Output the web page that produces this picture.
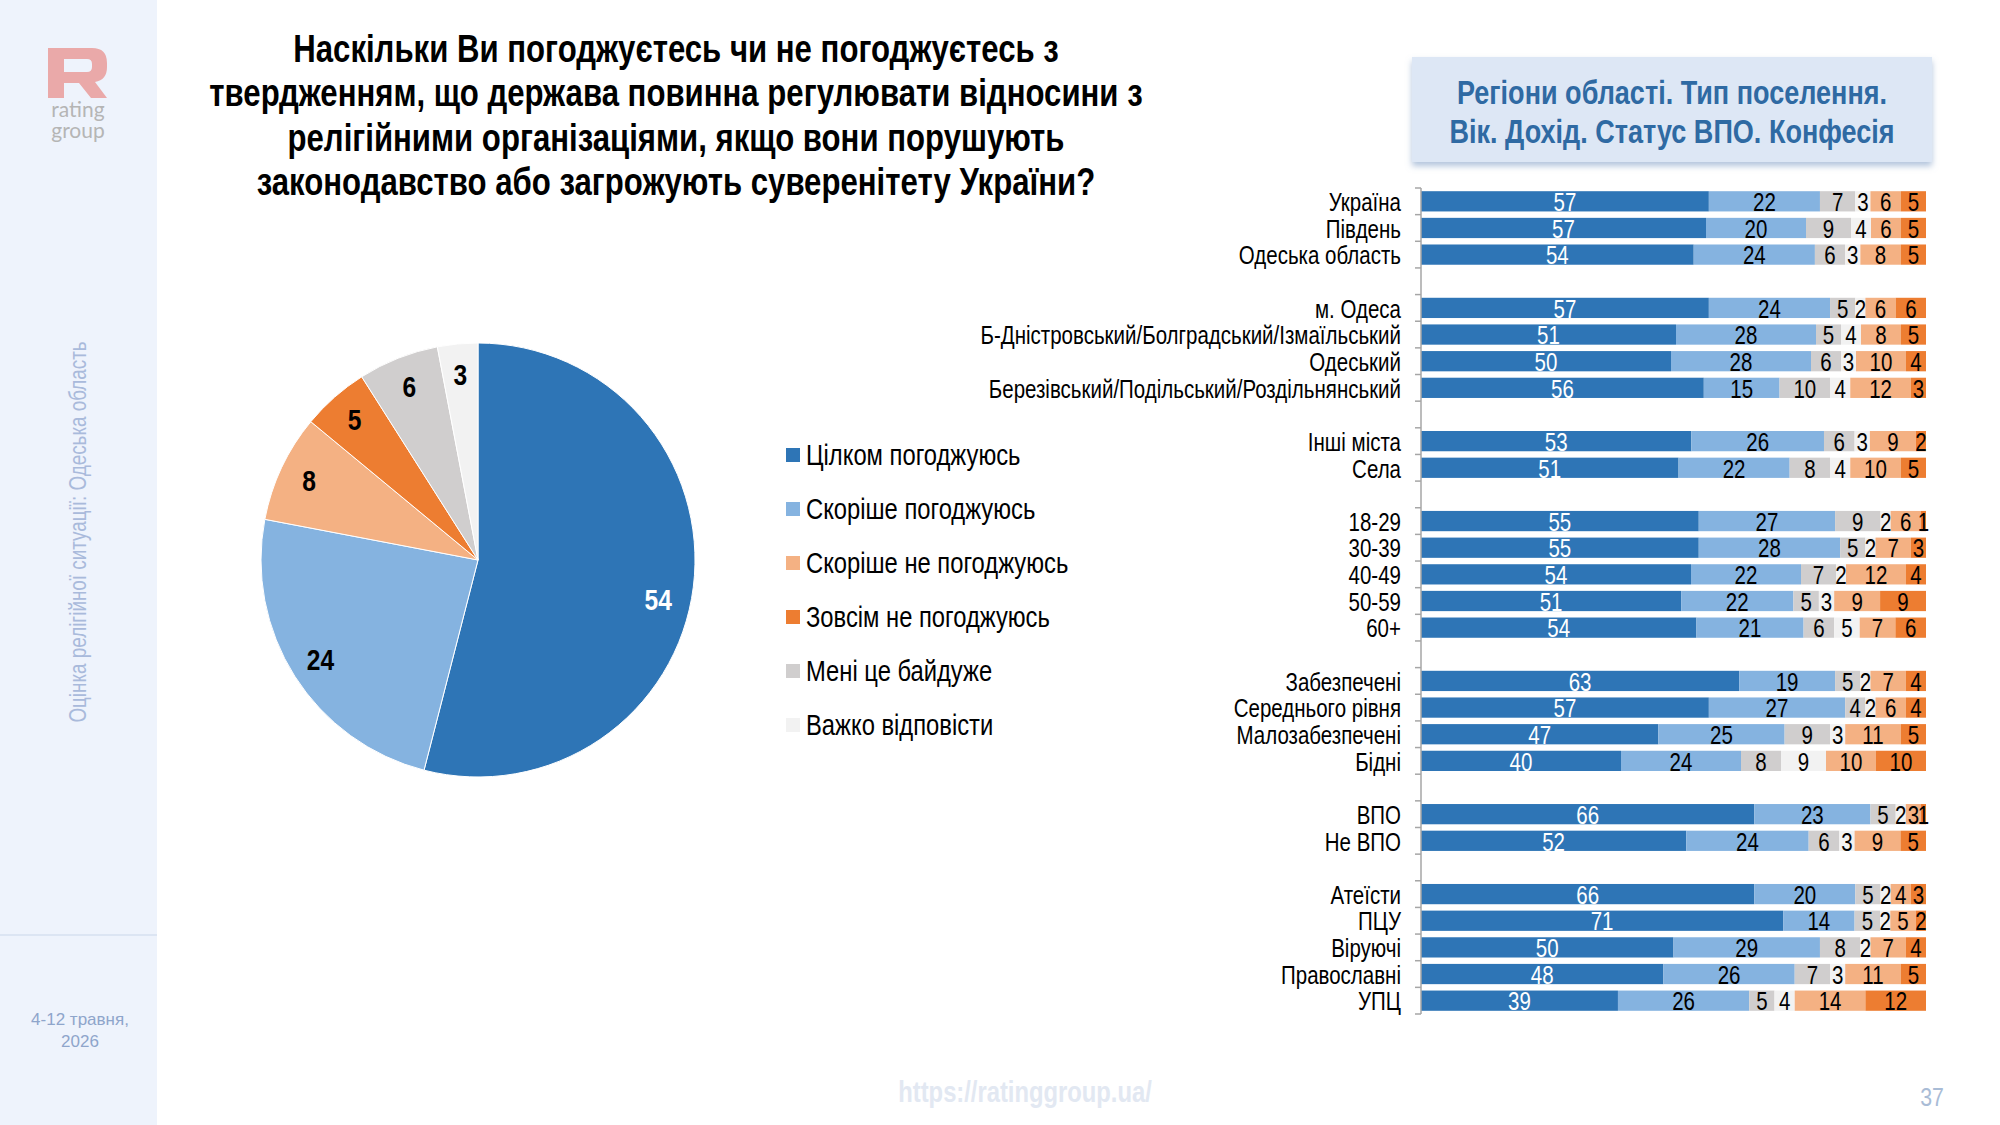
<!DOCTYPE html>
<html>
<head>
<meta charset="utf-8">
<script src="https://cdn.jsdelivr.net/npm/d3@7"></script>
<style>
  body { margin: 0; background: #fff; }
  svg { display: block; }
  text { font-family: 'Liberation Sans', Arial, sans-serif; }
</style>
</head>
<body>
<div id="chart"></div>
<script>
// data

const seriesNames = [
  'Цілком погоджуюсь',
  'Скоріше погоджуюсь',
  'Скоріше не погоджуюсь',
  'Зовсім не погоджуюсь',
  'Мені це байдуже',
  'Важко відповісти',
];
const seriesColors = ['#2e75b6', '#85b3e0', '#f4b183', '#ed7d31', '#d0cece', '#f2f2f2'];

// pie: Одеська область
const pieValues = [54, 24, 8, 5, 6, 3];

// bar rows, null = empty gap row
const rowLabels = [
  'Україна', 'Південь', 'Одеська область', null,
  'м. Одеса', 'Б-Дністровський/Болградський/Ізмаїльський', 'Одеський',
  'Березівський/Подільський/Роздільнянський', null,
  'Інші міста', 'Села', null,
  '18-29', '30-39', '40-49', '50-59', '60+', null,
  'Забезпечені', 'Середнього рівня', 'Малозабезпечені', 'Бідні', null,
  'ВПО', 'Не ВПО', null,
  'Атеїсти', 'ПЦУ', 'Віруючі', 'Православні', 'УПЦ',
];

const fullyAgree = [57, 57, 54, 57, 51, 50, 56, 53, 51, 55, 55, 54, 51, 54, 63, 57, 47, 40, 66, 52, 66, 71, 50, 48, 39];
const ratherAgree = [22, 20, 24, 24, 28, 28, 15, 26, 22, 27, 28, 22, 22, 21, 19, 27, 25, 24, 23, 24, 20, 14, 29, 26, 26];
const indifferent = [7, 9, 6, 5, 5, 6, 10, 6, 8, 9, 5, 7, 5, 6, 5, 4, 9, 8, 5, 6, 5, 5, 8, 7, 5];
const hardToSay = [3, 4, 3, 2, 4, 3, 4, 3, 4, 2, 2, 2, 3, 5, 2, 2, 3, 9, 2, 3, 2, 2, 2, 3, 4];
const ratherDisagree = [6, 6, 8, 6, 8, 10, 12, 9, 10, 6, 7, 12, 9, 7, 7, 6, 11, 10, 3, 9, 4, 5, 7, 11, 14];
const fullyDisagree = [5, 5, 5, 6, 5, 4, 3, 2, 5, 1, 3, 4, 9, 6, 4, 4, 5, 10, 1, 5, 3, 2, 4, 5, 12];

// order of segments inside the bars
const barKeys = ['fully', 'rather', 'indiff', 'hard', 'ratherNot', 'notAtAll'];
const barColors = ['#2e75b6', '#85b3e0', '#d0cece', '#f2f2f2', '#f4b183', '#ed7d31'];

// build rows
let k = 0;
const rows = rowLabels.map((label, i) => {
  if (label === null) return { id: 'gap' + i, label: '', gap: true };
  const r = {
    id: 'row' + i,
    label,
    fully: fullyAgree[k],
    rather: ratherAgree[k],
    indiff: indifferent[k],
    hard: hardToSay[k],
    ratherNot: ratherDisagree[k],
    notAtAll: fullyDisagree[k],
  };
  k++;
  return r;
});
const barRows = rows.filter(r => !r.gap);

const W = 2000;
const H = 1125;
// no narrow font installed, so squeeze Liberation Sans horizontally
const NARROW = 0.82;
const at = (px, py) => `translate(${px},${py}) scale(${NARROW},1)`;

const svg = d3
  .select('#chart')
  .append('svg')
  .attr('width', W)
  .attr('height', H);

const defs = svg.append('defs');
defs
  .append('filter')
  .attr('id', 'shadow')
  .attr('x', '-5%')
  .attr('y', '-10%')
  .attr('width', '110%')
  .attr('height', '130%')
  .append('feDropShadow')
  .attr('dx', 0)
  .attr('dy', 4)
  .attr('stdDeviation', 3)
  .attr('flood-color', '#7f9cc4')
  .attr('flood-opacity', 0.6);

// sidebar
svg
  .append('rect')
  .attr('x', 0)
  .attr('y', 0)
  .attr('width', 157)
  .attr('height', H)
  .attr('fill', '#eef3fc');

svg
  .append('line')
  .attr('x1', 0)
  .attr('x2', 157)
  .attr('y1', 935)
  .attr('y2', 935)
  .attr('stroke', '#d6e0f0')
  .attr('stroke-width', 1.5);

// logo mark
svg
  .append('path')
  .attr('fill', '#eaa9a9')
  .attr('fill-rule', 'evenodd')
  .attr('d',
    'M48,48 H92 Q107,48 107,63 V67 Q107,80 95,82 L107,98 H91 L79,83 H64 V98 H48 Z ' +
    'M64,59 H87 Q92,59 92,64 V67 Q92,72 87,72 H64 Z');

svg
  .append('g')
  .attr('fill', '#b5b5b5')
  .attr('text-anchor', 'middle')
  .selectAll('text')
  .data(['rating', 'group'])
  .join('text')
  .attr('x', 78)
  .attr('y', (d, i) => 117 + i * 21)
  .style('font-family', "'Lato', 'Liberation Sans', sans-serif")
  .style('font-size', '21px')
  .text(d => d);

svg
  .append('text')
  .attr('transform', `translate(80,532) rotate(-90) scale(${NARROW},1)`)
  .attr('text-anchor', 'middle')
  .attr('dominant-baseline', 'middle')
  .attr('fill', '#a9badb')
  .style('font-size', '23px')
  .text('Оцінка релігійної ситуації: Одеська область');

svg
  .append('g')
  .attr('fill', '#8ea5cb')
  .attr('text-anchor', 'middle')
  .selectAll('text')
  .data(['4-12 травня,', '2026'])
  .join('text')
  .attr('x', 80)
  .attr('y', (d, i) => 1025 + i * 22)
  .style('font-size', '17px')
  .text(d => d);

// title
const titleLines = [
  'Наскільки Ви погоджуєтесь чи не погоджуєтесь з',
  'твердженням, що держава повинна регулювати відносини з',
  'релігійними організаціями, якщо вони порушують',
  'законодавство або загрожують суверенітету України?',
];
svg
  .append('g')
  .attr('text-anchor', 'middle')
  .selectAll('text')
  .data(titleLines)
  .join('text')
  .attr('transform', (d, i) => at(676, 62 + i * 44.3))
  .style('font-size', '38px')
  .style('font-weight', 'bold')
  .attr('fill', '#000')
  .text(d => d);

// header box on the right
svg
  .append('rect')
  .attr('x', 1412)
  .attr('y', 57)
  .attr('width', 520)
  .attr('height', 105)
  .attr('fill', '#dde7f5')
  .attr('filter', 'url(#shadow)');

svg
  .append('g')
  .attr('text-anchor', 'middle')
  .selectAll('text')
  .data(['Регіони області. Тип поселення.', 'Вік. Дохід. Статус ВПО. Конфесія'])
  .join('text')
  .attr('transform', (d, i) => at(1672, 104 + i * 39))
  .attr('fill', '#2f6aa3')
  .style('font-size', '33px')
  .style('font-weight', 'bold')
  .text(d => d);

// pie
const pieCenter = { x: 478, y: 560 };
const radius = 217;

const pie = d3
  .pie()
  .sort(null)
  .value(d => d);

const arc = d3
  .arc()
  .innerRadius(0)
  .outerRadius(radius);

const labelArc = d3
  .arc()
  .innerRadius(radius * 0.86)
  .outerRadius(radius * 0.86);

const bigLabelArc = d3
  .arc()
  .innerRadius(radius * 0.85)
  .outerRadius(radius * 0.85);

const pieG = svg
  .append('g')
  .attr('transform', `translate(${pieCenter.x},${pieCenter.y})`);

const arcs = pie(pieValues);

pieG
  .selectAll('path')
  .data(arcs)
  .join('path')
  .attr('d', arc)
  .attr('fill', (d, i) => seriesColors[i])
  .attr('stroke', '#fff')
  .attr('stroke-width', 1);

pieG
  .selectAll('text')
  .data(arcs)
  .join('text')
  .attr('transform', (d, i) => {
    // the big slice label sits a bit lower, like the original
    const c = i === 0
      ? bigLabelArc.centroid({ ...d, startAngle: d.startAngle + 0.09, endAngle: d.endAngle + 0.09 })
      : labelArc.centroid(d);
    return at(c[0], c[1]);
  })
  .attr('text-anchor', 'middle')
  .attr('dominant-baseline', 'central')
  .attr('fill', (d, i) => (i === 0 ? '#fff' : '#000'))
  .style('font-size', '30px')
  .style('font-weight', 'bold')
  .text(d => d.data);

// legend
const legend = svg
  .append('g')
  .attr('transform', 'translate(786,455)');

const legendItem = legend
  .selectAll('g')
  .data(seriesNames)
  .join('g')
  .attr('transform', (d, i) => `translate(0,${i * 54})`);

legendItem
  .append('rect')
  .attr('x', 0)
  .attr('y', -7)
  .attr('width', 14)
  .attr('height', 14)
  .attr('fill', (d, i) => seriesColors[i]);

legendItem
  .append('text')
  .attr('transform', at(20, 0))
  .attr('dominant-baseline', 'central')
  .style('font-size', '29px')
  .attr('fill', '#000')
  .text(d => d);

// stacked bars
const axisX = 1421;
const barRight = 1926;

const y = d3
  .scaleBand()
  .domain(rows.map(r => r.id))
  .range([188, 1014])
  .paddingInner(0.24)
  .paddingOuter(0.12);

const x = d3
  .scaleLinear()
  .domain([0, 1])
  .range([axisX, barRight]);

const stack = d3
  .stack()
  .keys(barKeys)
  .offset(d3.stackOffsetExpand);

const stacked = stack(barRows);

const barsG = svg.append('g');

const layer = barsG
  .selectAll('g')
  .data(stacked)
  .join('g')
  .attr('fill', (d, i) => barColors[i]);

layer
  .selectAll('rect')
  .data(d => d)
  .join('rect')
  .attr('x', d => x(d[0]))
  .attr('y', d => y(d.data.id))
  .attr('width', d => x(d[1]) - x(d[0]))
  .attr('height', y.bandwidth());

// value labels
const labelsG = svg.append('g');
stacked.forEach((s, si) => {
  labelsG
    .append('g')
    .selectAll('text')
    .data(s)
    .join('text')
    .attr('transform', d => at((x(d[0]) + x(d[1])) / 2, y(d.data.id) + y.bandwidth() / 2 + 1))
    .attr('text-anchor', 'middle')
    .attr('dominant-baseline', 'central')
    .attr('fill', si === 0 ? '#fff' : '#000')
    .style('font-size', '25px')
    .text(d => d.data[s.key]);
});

// category axis with ticks between categories
const step = y.step();
const axisTop = y.range()[0];
const axisBottom = y.range()[1];

const axisG = svg.append('g');

axisG
  .append('line')
  .attr('x1', axisX)
  .attr('x2', axisX)
  .attr('y1', axisTop)
  .attr('y2', axisBottom)
  .attr('stroke', '#a6a6a6')
  .attr('stroke-width', 1.5);

axisG
  .selectAll('.tick')
  .data(d3.range(rows.length + 1))
  .join('line')
  .attr('class', 'tick')
  .attr('x1', axisX - 6)
  .attr('x2', axisX)
  .attr('y1', i => axisTop + i * step)
  .attr('y2', i => axisTop + i * step)
  .attr('stroke', '#a6a6a6')
  .attr('stroke-width', 1.5);

axisG
  .selectAll('.label')
  .data(barRows)
  .join('text')
  .attr('class', 'label')
  .attr('transform', d => at(axisX - 20, y(d.id) + y.bandwidth() / 2 + 1))
  .attr('text-anchor', 'end')
  .attr('dominant-baseline', 'central')
  .attr('fill', '#000')
  .style('font-size', '25px')
  .text(d => d.label);

// footer
svg
  .append('text')
  .attr('transform', at(1025, 1102))
  .attr('text-anchor', 'middle')
  .attr('fill', '#e2e8f2')
  .style('font-size', '29px')
  .style('font-weight', 'bold')
  .text('https://ratinggroup.ua/');

svg
  .append('text')
  .attr('transform', at(1932, 1106))
  .attr('text-anchor', 'middle')
  .attr('fill', '#a9bcd6')
  .style('font-size', '26px')
  .text('37');
</script>
</body>
</html>
